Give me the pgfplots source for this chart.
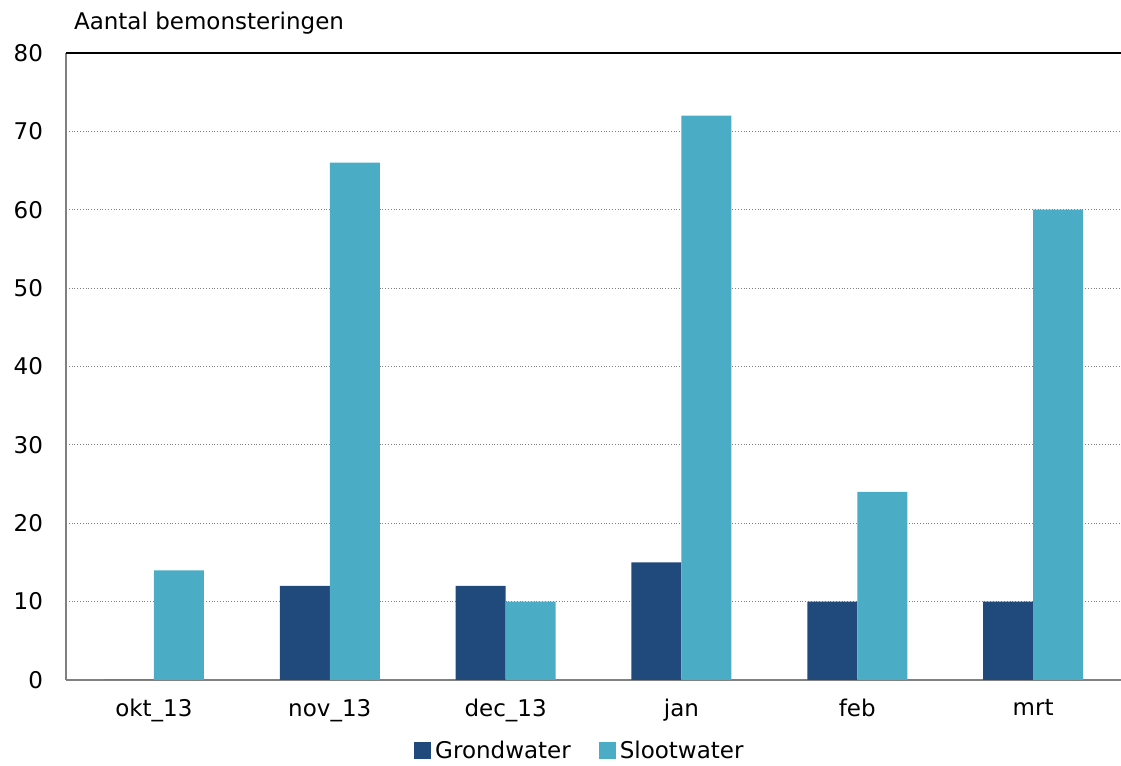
\documentclass[border=0pt]{standalone}
\usepackage{fontspec}
\setmainfont{DejaVu Sans}
\usepackage{pgfplots}
\pgfplotsset{compat=1.18}

\definecolor{grond}{RGB}{32,74,124}
\definecolor{sloot}{RGB}{75,172,198}
\definecolor{axgray}{RGB}{128,128,128}

\begin{document}
\begin{tikzpicture}
\begin{axis}[
    width=527.5pt, height=313.5pt, scale only axis,
    ybar=0pt, bar width=25pt,
    xmin=-0.5, xmax=5.5, ymin=0, ymax=80,
    xtick=data,
    xticklabels={okt\_13, nov\_13, dec\_13, jan, feb, mrt},
    ytick={0,10,...,80},
    axis x line*=bottom, axis y line*=left,
    axis line style={axgray, line width=1pt, -},
    major tick length=0pt,
    ymajorgrids, grid style={densely dotted, gray, line width=0.6pt},
    /pgf/number format/assume math mode=true,
    tick label style={font=\fontsize{11.5pt}{13pt}\selectfont, black},
    yticklabel style={xshift=-8pt},
    xticklabel style={yshift=-6pt},
    legend style={at={(0.488,-0.114)}, anchor=center, draw=none,
        font=\fontsize{11.5pt}{13pt}\selectfont, legend columns=2,
        /tikz/every even column/.append style={column sep=12pt}},
    legend image code/.code={\fill[#1] (0pt,-4pt) rectangle (8.5pt,4.5pt);},
]
\addplot[draw=none, fill=grond] coordinates {(0,0) (1,12) (2,12) (3,15) (4,10) (5,10)};
\addplot[draw=none, fill=sloot] coordinates {(0,14) (1,66) (2,10) (3,72) (4,24) (5,60)};
\legend{Grondwater, Slootwater}
\draw[black, line width=1.2pt] (axis cs:-0.5,80) -- (axis cs:5.5,80);
\end{axis}
\node[anchor=base west, font=\fontsize{11.5pt}{13pt}\selectfont]
    at ([xshift=0.5pt, yshift=11.5pt]current axis.north west) {Aantal bemonsteringen};
\pgfresetboundingbox
\path[use as bounding box] ([shift={(-33pt,-43pt)}]current axis.south west)
    rectangle ([shift={(0pt,26.5pt)}]current axis.north east);
\end{tikzpicture}
\end{document}
